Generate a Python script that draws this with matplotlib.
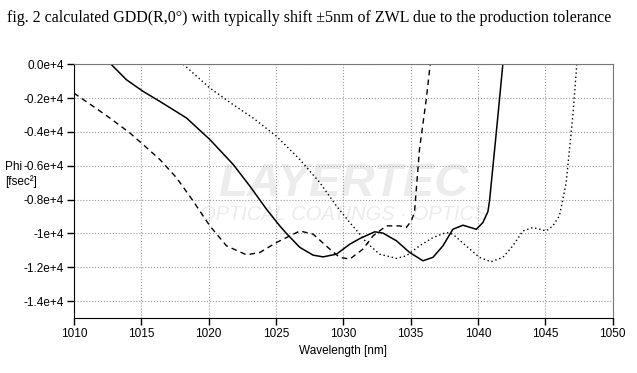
import matplotlib
matplotlib.use('Agg')
from matplotlib import pyplot as plt

# values (wavelength in nm, GDD in 1e4 fs^2)
solid_wl = [1012.75, 1013.9, 1015.14, 1016.38, 1018.36, 1020.09, 1021.82, 1023.06, 1024.3,
            1025.28, 1025.78, 1026.77, 1027.76, 1028.5, 1029.49, 1030.48, 1031.22, 1032.33,
            1032.95, 1033.94, 1034.92, 1035.91, 1036.65, 1037.39, 1038.13, 1038.88, 1039.87,
            1040.36, 1040.73, 1040.85, 1041.35, 1041.84]
solid_gdd = [0.0, -0.092, -0.161, -0.22, -0.318, -0.445, -0.592, -0.72, -0.857,
             -0.955, -1.0, -1.082, -1.128, -1.138, -1.122, -1.063, -1.03, -0.99,
             -0.998, -1.043, -1.112, -1.161, -1.141, -1.073, -0.975, -0.951, -0.975,
             -0.935, -0.871, -0.808, -0.406, 0.0]

dashed_wl = [1010.0, 1011.43, 1012.67, 1014.15, 1015.14, 1016.38, 1017.62, 1018.85, 1020.09,
             1021.33, 1022.81, 1023.8, 1025.04, 1026.77, 1027.76, 1028.99, 1029.73, 1030.48,
             1031.46, 1032.2, 1033.19, 1034.18, 1034.67, 1035.04, 1035.28, 1035.65, 1036.15,
             1036.45]
dashed_gdd = [-0.171, -0.249, -0.318, -0.406, -0.475, -0.563, -0.671, -0.808, -0.955,
              -1.073, -1.126, -1.112, -1.053, -0.985, -1.004, -1.092, -1.141, -1.151,
              -1.092, -1.014, -0.955, -0.955, -0.965, -0.926, -0.876, -0.504, -0.21,
              0.0]

dotted_wl = [1018.11, 1020.09, 1021.82, 1023.3, 1025.04, 1026.77, 1028.26, 1029.49, 1030.48,
             1031.22, 1031.71, 1032.69, 1033.94, 1034.67, 1035.65, 1036.65, 1037.64, 1038.13,
             1039.11, 1040.1, 1040.97, 1041.84, 1042.58, 1043.32, 1044.07, 1045.06, 1045.55,
             1046.04, 1046.54, 1047.03, 1047.33]
dotted_gdd = [0.0, -0.141, -0.239, -0.318, -0.426, -0.563, -0.7, -0.838, -0.935,
              -1.004, -1.053, -1.122, -1.147, -1.132, -1.073, -1.024, -0.994, -1.004,
              -1.073, -1.141, -1.167, -1.141, -1.073, -0.985, -0.965, -0.985, -0.955,
              -0.896, -0.7, -0.308, 0.0]

x_ticks = [1010, 1015, 1020, 1025, 1030, 1035, 1040, 1045, 1050]
y_ticks = [0.0, -0.2, -0.4, -0.6, -0.8, -1.0, -1.2, -1.4]
y_labels = ['0.0e+4', '-0.2e+4', '-0.4e+4', '-0.6e+4', '-0.8e+4', '-1e+4', '-1.2e+4', '-1.4e+4']

fig = plt.figure(figsize=(6.37, 3.73), dpi=100)
ax = fig.add_axes([0.116, 0.147, 0.846, 0.681])

# watermark
ax.text(0.5, 0.53, 'LAYERTEC', transform=ax.transAxes, ha='center', va='center',
        fontsize=34, fontweight='bold', style='italic', color='#ececec', zorder=0,
        family='Liberation Sans')
ax.text(0.5, 0.41, 'OPTICAL COATINGS · OPTICS', transform=ax.transAxes, ha='center',
        va='center', fontsize=14.5, style='italic', color='#ececec', zorder=0,
        family='Liberation Sans')

ax.plot(solid_wl, solid_gdd, color='black', lw=1.1, ls='-')
ax.plot(dashed_wl, dashed_gdd, color='black', lw=1.0, ls=(0, (4, 3)))
ax.plot(dotted_wl, dotted_gdd, color='black', lw=1.0, ls=(0, (1, 2)))

ax.set_xlim(1010, 1050)
ax.set_ylim(-1.5, 0.0)
ax.set_xticks(x_ticks)
ax.set_yticks(y_ticks)
ax.set_yticklabels(y_labels)
ax.grid(True, ls=':', color='#999999', lw=0.8)
ax.tick_params(direction='out', length=5, width=1, labelsize=8.5, pad=2)
for lab in ax.get_xticklabels() + ax.get_yticklabels():
    lab.set_family('Liberation Sans')

ax.spines['left'].set_color('black')
ax.spines['bottom'].set_color('black')
ax.spines['top'].set_color('#777777')
ax.spines['right'].set_color('#777777')

ax.set_xlabel('Wavelength [nm]', fontsize=8.5, family='Liberation Sans', labelpad=4)
fig.text(5 / 637, 1 - 167 / 373, 'Phi', fontsize=8.5, family='Liberation Sans', va='center')
fig.text(5 / 637, 1 - 182 / 373, '[fsec²]', fontsize=8.5, family='Liberation Sans', va='center')

fig.text(7 / 637, 1 - 18 / 373,
         'fig. 2 calculated GDD(R,0°) with typically shift ±5nm of ZWL due to the production tolerance',
         fontsize=11.5, family='Liberation Serif', va='center')

fig.savefig('out.png', dpi=100)
